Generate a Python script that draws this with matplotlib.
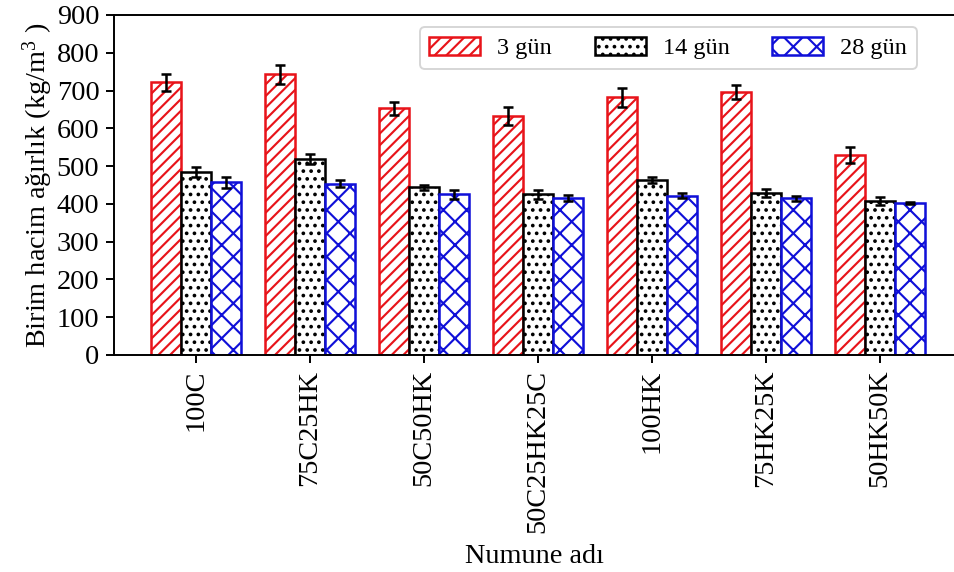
import matplotlib
matplotlib.use("Agg")
import matplotlib.pyplot as plt
import numpy as np

categories = ["100C", "75C25HK", "50C50HK", "50C25HK25C", "100HK", "75HK25K", "50HK50K"]
series_names = ["3 gün", "14 gün", "28 gün"]
vals_3 = [722, 743, 653, 633, 682, 696, 529]
vals_14 = [485, 518, 444, 425, 463, 428, 407]
vals_28 = [457, 453, 425, 415, 422, 415, 402]
err_3 = [22, 25, 18, 24, 26, 18, 21]
err_14 = [13, 13, 7, 12, 8, 11, 10]
err_28 = [15, 9, 12, 8, 6, 7, 3]
yticks = [0, 100, 200, 300, 400, 500, 600, 700, 800, 900]

plt.rcParams['font.family'] = ['Liberation Serif', 'DejaVu Serif']
plt.rcParams['mathtext.fontset'] = 'custom'
plt.rcParams['mathtext.rm'] = 'Liberation Serif'
plt.rcParams['mathtext.it'] = 'Liberation Serif:italic'
plt.rcParams['hatch.linewidth'] = 1.1

DPI = 140
fig = plt.figure(figsize=(954 / DPI, 572 / DPI), dpi=DPI)
ax = fig.add_axes([114 / 954, 1 - 355 / 572, 841 / 954, 340 / 572])

x = np.arange(len(categories))
w = 0.263
fs = 14.5

styles = [
    dict(edgecolor='#e8141a', hatch='////'),
    dict(edgecolor='black', hatch='...'),
    dict(edgecolor='#1010d8', hatch='xx'),
]
data = [vals_3, vals_14, vals_28]
errs = [err_3, err_14, err_28]
for i in range(3):
    ax.bar(x + (i - 1) * w, data[i], w, yerr=errs[i], color='white',
           linewidth=1.3, label=series_names[i],
           error_kw=dict(ecolor='black', elinewidth=1.3, capsize=2.8, capthick=1.3),
           **styles[i])

ax.set_xlim(-0.72, 6.66)
ax.set_ylim(0, 900)
ax.set_yticks(yticks)
ax.set_xticks(x)
ax.set_xticklabels(categories, rotation=90, fontsize=fs)
ax.tick_params(axis='y', labelsize=fs, length=4, width=1)
ax.tick_params(axis='x', length=4, width=1)
for s in ax.spines.values():
    s.set_linewidth(1.0)

ax.set_ylabel('Birim hacim ağırlık (kg/m$^{3}$ )', fontsize=fs, labelpad=1)
ax.set_xlabel('Numune adı', fontsize=fs, labelpad=6)

ax.legend(ncol=3, loc='upper right', bbox_to_anchor=(0.9547, 0.965),
          borderaxespad=0, fontsize=12.5, handlelength=2.1, handleheight=0.78,
          handletextpad=0.7, columnspacing=1.75, borderpad=0.4)

fig.savefig("out.png", dpi=DPI)
